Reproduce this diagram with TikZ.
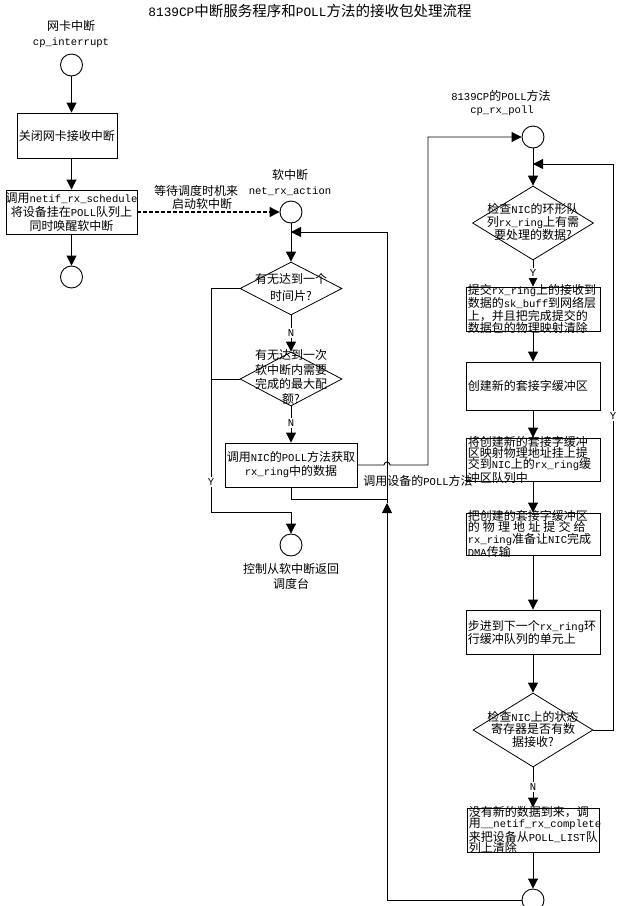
\documentclass[tikz,border=0pt]{standalone}
\usepackage{fontspec}
\setmainfont{Noto Sans CJK SC}
\newfontfamily\monof{Liberation Mono}[Scale=0.88]
\newcommand\ltn[1]{{\monof #1}}
\usetikzlibrary{arrows.meta,shapes.geometric}
\begin{document}
\begin{tikzpicture}[x=1pt,y=-1pt,
  every node/.style={inner sep=0pt,align=center,font=\fontsize{12}{14}\selectfont},
  ln/.style={line width=0.9pt},
  arr/.style={ln,-{Triangle[width=10pt,length=10pt]}},
  circ/.style={circle,draw,line width=0.9pt,minimum size=22pt},
  box/.style={rectangle,draw,line width=0.9pt},
  dia/.style={diamond,draw,line width=0.8pt},
  lab/.style={fill=white,inner sep=1.5pt},
  rtxt/.style={anchor=west,align=left,font=\fontsize{12}{11.3}\selectfont}
]
\fill[white] (0,0) rectangle (633,906);
\useasboundingbox (0,0) rectangle (633,906);

% title
\node (title) at (310,11) {\fontsize{14.5}{16}\selectfont\ltn{8139CP}中断服务程序和\ltn{POLL}方法的接收包处理流程};

% ---------- left column
\node (l1) at (71,26) {网卡中断};
\node (l2) at (71,43) {\ltn{cp\_interrupt}};
\node[circ] (c1) at (71.5,65) {};
\node[box,minimum width=100pt,minimum height=45pt] (b1) at (67,135.5) {};
\node (b1t) at (b1) {关闭网卡接收中断};
\node[box,minimum width=131pt,minimum height=44pt] (b2) at (71.5,212) {};
\node[font=\fontsize{12}{14}\selectfont] (b2t) at (b2) {调用\ltn{netif\_rx\_schedule}\\将设备挂在\ltn{POLL}队列上\\同时唤醒软中断};
\node[circ] (c6) at (71.5,277) {};

\draw[arr] (c1) -- (c1 |- b1.north);
\draw[arr] (c1 |- b1.south) -- (c1 |- b2.north);
\draw[arr] (c1 |- b2.south) -- (c6);

% dashed
\node (w1) at (196,191) {等待调度时机来};
\node (w2) at (202,204) {启动软中断};

% ---------- middle column
\node (s1) at (290,175) {软中断};
\node (s2) at (290,191) {\ltn{net\_rx\_action}};
\node[circ] (c2) at (291,212) {};
\draw[arr,line width=1.2pt,dash pattern=on 4pt off 2pt] (b2.east) -- (c2.west);

\node[dia,minimum width=102pt,minimum height=53pt] (d1) at (291,288.5) {};
\node[font=\fontsize{12}{17}\selectfont] (d1t) at (291,287.5) {有无达到一个\\时间片?};
\node[dia,minimum width=102pt,minimum height=54pt] (d2) at (291,379) {};
\node[font=\fontsize{12}{14.7}\selectfont] (d2t) at (291,377) {有无达到一次\\软中断内需要\\完成的最大配\\额?};
\node[box,minimum width=132pt,minimum height=44pt] (b3) at (291,465) {};
\node (b3t) at (b3) {调用\ltn{NIC}的\ltn{POLL}方法获取\\\ltn{rx\_ring}中的数据};
\node[circ] (c3) at (291,545) {};
\node[font=\fontsize{12}{15}\selectfont] (ret) at (291,576.5) {控制从软中断返回\\调度台};
\node (pl) at (418,481) {调用设备的\ltn{POLL}方法};

\coordinate (ly) at (211,512);
\coordinate (jb) at (387,900);
\coordinate (jm) at (387,503);
\coordinate (jb3) at (387,499);
\coordinate (jt) at (387,232);
\coordinate (tp) at (428,137);

\draw[arr] (c2) -- (d1.north);
\draw[arr] (d1.south) -- (d2.north);
\draw[arr] (d2.south) -- (b3.north);
\draw[arr] (d1.west) -| (ly) -| (c3.north);
\draw[ln] (d2.west) -- (d2.west -| ly);
\draw[ln] (b3.south) |- (jb3);

% ---------- right column
\node (r1) at (501,96) {\ltn{8139CP}的\ltn{POLL}方法};
\node (r2) at (502,111) {\ltn{cp\_rx\_poll}};
\node[circ] (c4) at (533,137) {};
\draw[arr] (b3.east) -- (384,465) arc[start angle=180,end angle=360,radius=3] -- (tp |- b3.east) -- (tp) -- (c4.west);

\node[dia,minimum width=121pt,minimum height=74pt] (d3) at (533,223) {};
\node[font=\fontsize{12}{13}\selectfont] (d3t) at (533,222) {检查\ltn{NIC}的环形队\\列\ltn{rx\_ring}上有需\\要处理的数据?};
\node[box,minimum width=134pt,minimum height=44pt] (b4) at (533,309) {};
\node[rtxt] (b4t) at ([xshift=2pt]b4.west) {提交\ltn{rx\_ring}上的接收到\\数据的\ltn{sk\_buff}到网络层\\上，并且把完成提交的\\数据包的物理映射清除};
\node[box,minimum width=134pt,minimum height=48pt] (b5) at (533,386) {};
\node[rtxt] (b5t) at ([xshift=2pt]b5.west) {创建新的套接字缓冲区};
\node[box,minimum width=134pt,minimum height=43pt] (b6) at (533,459.5) {};
\node[rtxt] (b6t) at ([xshift=2pt]b6.west) {将创建新的套接字缓冲\\区映射物理地址挂上提\\交到\ltn{NIC}上的\ltn{rx\_ring}缓\\冲区队列中};
\node[box,minimum width=134pt,minimum height=42pt] (b7) at (533,534) {};
\node[rtxt] (b7t) at ([xshift=2pt]b7.west) {把创建的套接字缓冲区\\\makebox[118pt][s]{的 物 理 地 址 提 交 给}\\\ltn{rx\_ring}准备让\ltn{NIC}完成\\\ltn{DMA}传输};
\node[box,minimum width=134pt,minimum height=44pt] (b8) at (533,632) {};
\node[rtxt,font=\fontsize{12}{13}\selectfont] (b8t) at ([xshift=2pt]b8.west) {步进到下一个\ltn{rx\_ring}环\\行缓冲队列的单元上};
\node[dia,minimum width=120pt,minimum height=74pt] (d4) at (533,730) {};
\node[font=\fontsize{12}{12.5}\selectfont] (d4t) at (533,729) {检查\ltn{NIC}上的状态\\寄存器是否有数\\据接收?};
\node[box,minimum width=132pt,minimum height=44pt] (b9) at (533,830) {};
\node[rtxt] (b9t) at ([xshift=2pt]b9.west) {没有新的数据到来，调\\用\ltn{\_\_netif\_rx\_complete}\\来把设备从\ltn{POLL\_LIST}队\\列上清除};
\node[circ] (c5) at (533,900) {};

\coordinate (rr) at (613,164);

\draw[arr] (c4) -- (d3.north);
\draw[arr] (d3.south) -- (b4.north);
\draw[arr] (b4.south) -- (b5.north);
\draw[arr] (b5.south) -- (b6.north);
\draw[arr] (b6.south) -- (b7.north);
\draw[arr] (b7.south) -- (b8.north);
\draw[arr] (b8.south) -- (d4.north);
\draw[arr] (d4.east) -| (rr) -- (rr -| c4);
\draw[arr] (d4.south) -- (b9.north);
\draw[arr] (b9.south) -- (c5.north);

% loop back to net_rx_action
\draw[arr] (c5.west) -- (jb) -- (jm);
\draw[arr] (jm) -- (jt) -- (jt -| c2);

% labels on lines
\node[lab] (n1) at (291,333) {\ltn{N}};
\node[lab] (n2) at (291,423) {\ltn{N}};
\node[lab] (y1) at (211,482) {\ltn{Y}};
\node[lab] (y2) at (533,273) {\ltn{Y}};
\node[lab] (y3) at (613,416) {\ltn{Y}};
\node[lab] (n3) at (533,787) {\ltn{N}};
\end{tikzpicture}
\end{document}
